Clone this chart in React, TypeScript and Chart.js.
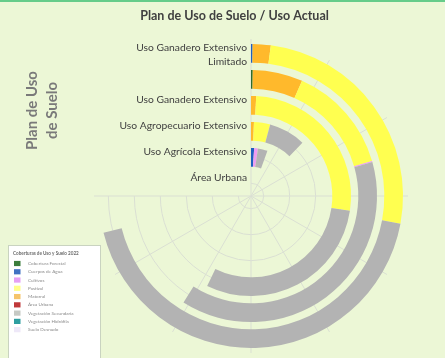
import React, { useEffect, useRef } from "react";
import { Chart, registerables } from "chart.js";

Chart.register(...registerables);

// ---- data ----
const chartTitle = "Plan de Uso de Suelo / Uso Actual";
const axisTitle = ["Plan de Uso", "de Suelo"];
const ringLabels: string[][] = [
  ["Uso Ganadero Extensivo", "Limitado"],
  [""],
  ["Uso Ganadero Extensivo"],
  ["Uso Agropecuario Extensivo"],
  ["Uso Agrícola Extensivo"],
  ["Área Urbana"],
];
const coverNames = [
  "Cobertura Forestal",
  "Cuerpos de Agua",
  "Matorral",
  "Pastizal",
  "Cultivos",
  "Vegetación Secundaria",
];
const coberturaForestal = [0, 0.8, 0, 0, 0, 0];
const cuerposAgua = [0.6, 0, 0, 0, 3.8, 0];
const matorral = [6.9, 23.1, 3, 2.3, 0, 0];
const pastizal = [93, 50, 95.5, 12.7, 0, 0];
const cultivos = [0, 0.5, 0, 0, 4.5, 0];
const vegetacionSecundaria = [155.5, 138, 107.5, 29, 11.7, 0];
const coverColors = ["#2e6b2e", "#1f5fc0", "#ffb92c", "#ffff50", "#ee9cf2", "#b3b3b3"];
const scaleMax = 360;

const legendTitle = "Coberturas de Uso y Suelo 2022";
const legendNames = [
  "Cobertura Forestal",
  "Cuerpos de Agua",
  "Cultivos",
  "Pastizal",
  "Matorral",
  "Área Urbana",
  "Vegetación Secundaria",
  "Vegetación Hidrófila",
  "Suelo Desnudo",
];
const legendColors = [
  "#3b7d3b",
  "#4172c2",
  "#e6a0f4",
  "#ffff8a",
  "#f5c46a",
  "#c0393b",
  "#c6c9c4",
  "#2e9ea0",
  "#eee8f8",
];

const RING_W = 18.7;
const GAP_W = 7.3;
const FONT = '"Lato", "Open Sans", sans-serif';

export default function App() {
  const ref = useRef<HTMLCanvasElement>(null);

  useEffect(() => {
    const canvas = ref.current;
    if (!canvas) return;
    const series = [coberturaForestal, cuerposAgua, matorral, pastizal, cultivos, vegetacionSecundaria];
    const datasets: any[] = [];
    const ringIdx: number[] = [];
    ringLabels.forEach((lab, i) => {
      if (i > 0) {
        datasets.push({
          label: "",
          data: [scaleMax],
          backgroundColor: ["rgba(0,0,0,0)"],
          weight: GAP_W,
          borderWidth: 0,
          hoverBorderWidth: 0,
          hoverOffset: 0,
        });
      }
      const vals = series.map((s) => s[i]);
      const rest = Math.max(scaleMax - vals.reduce((a, b) => a + b, 0), 0);
      ringIdx.push(datasets.length);
      datasets.push({
        label: lab.join(" "),
        data: [...vals, rest],
        backgroundColor: [...coverColors, "rgba(0,0,0,0)"],
        weight: RING_W,
        borderWidth: 0,
        hoverBorderWidth: 0,
        hoverOffset: 0,
      });
    });

    const decor = {
      id: "decor",
      beforeDatasetsDraw(chart: any) {
        const ctx = chart.ctx;
        const first = chart.getDatasetMeta(ringIdx[0]).data[0];
        const cx = first.x, cy = first.y;
        const outer = first.outerRadius + 5;
        ctx.save();
        ctx.strokeStyle = "#dadfd3";
        ctx.lineWidth = 1;
        // spokes every 30 degrees, upper-left quadrant left free for the labels
        for (let a = 0; a <= 270; a += 30) {
          const t = (a * Math.PI) / 180;
          ctx.beginPath();
          ctx.moveTo(cx, cy);
          ctx.lineTo(cx + outer * Math.sin(t), cy - outer * Math.cos(t));
          ctx.stroke();
        }
        ringIdx.forEach((di) => {
          const el = chart.getDatasetMeta(di).data[0];
          const r = (el.outerRadius + el.innerRadius) / 2;
          ctx.beginPath();
          ctx.arc(cx, cy, r, -Math.PI / 2, Math.PI);
          ctx.stroke();
        });
        ctx.restore();
      },
      afterDraw(chart: any) {
        const ctx = chart.ctx;
        const first = chart.getDatasetMeta(ringIdx[0]).data[0];
        const cx = first.x, cy = first.y;
        ctx.save();
        // title
        ctx.fillStyle = "#404040";
        ctx.font = `bold 12.5px ${FONT}`;
        ctx.textAlign = "center";
        ctx.textBaseline = "middle";
        ctx.fillText(chartTitle, 234.5, 15.5);
        // ring labels
        ctx.font = `10.3px ${FONT}`;
        ctx.textAlign = "right";
        ringIdx.forEach((di, i) => {
          const el = chart.getDatasetMeta(di).data[0];
          ringLabels[i].forEach((line, k) => {
            ctx.fillText(line, cx - 4, cy - el.outerRadius + 3.5 + k * 14.5);
          });
        });
        // axis title
        ctx.save();
        ctx.translate(42, 110.5);
        ctx.rotate(-Math.PI / 2);
        ctx.fillStyle = "#7a7a7a";
        ctx.font = `bold 15px ${FONT}`;
        ctx.textAlign = "center";
        ctx.textBaseline = "middle";
        axisTitle.forEach((line, k) => ctx.fillText(line, 0, -10 + k * 20));
        ctx.restore();
        // legend box
        ctx.fillStyle = "#ffffff";
        ctx.strokeStyle = "#c9d3c0";
        ctx.lineWidth = 1;
        ctx.fillRect(8.5, 245.5, 92, 115);
        ctx.strokeRect(8.5, 245.5, 92, 115);
        ctx.filter = "blur(0.4px)";
        ctx.textAlign = "left";
        ctx.textBaseline = "middle";
        ctx.fillStyle = "#6d6d6d";
        ctx.font = `bold 4.6px ${FONT}`;
        ctx.fillText(legendTitle, 13, 253.5);
        ctx.font = `4.6px ${FONT}`;
        legendNames.forEach((n, k) => {
          const y = 263.5 + k * 8.27;
          ctx.fillStyle = legendColors[k];
          ctx.fillRect(14, y - 2.6, 6.5, 5.2);
          ctx.fillStyle = "#8a8a8a";
          ctx.fillText(n, 28, y);
        });
        ctx.restore();
      },
    };

    const chart = new Chart(canvas, {
      type: "doughnut",
      data: { labels: [...coverNames, ""], datasets },
      options: {
        responsive: false,
        animation: false,
        events: [],
        rotation: 0,
        circumference: 360,
        radius: 152,
        cutout: "2.2%",
        layout: { padding: { left: 57, top: 34, right: 0, bottom: 0 } },
        plugins: {
          legend: { display: false },
          tooltip: { enabled: false },
          title: { display: false },
        },
      } as any,
      plugins: [decor],
    });
    return () => chart.destroy();
  }, []);

  return (
    <div
      style={{
        position: "fixed",
        left: 0,
        top: 0,
        width: 445,
        height: 358,
        background: "#ecf7d6",
        overflow: "hidden",
      }}
    >
      <div style={{ position: "absolute", left: 0, top: 0, width: 445, height: 2, background: "#66cc8a" }} />
      <canvas ref={ref} width={445} height={358} style={{ position: "absolute", left: 0, top: 0 }} />
    </div>
  );
}
